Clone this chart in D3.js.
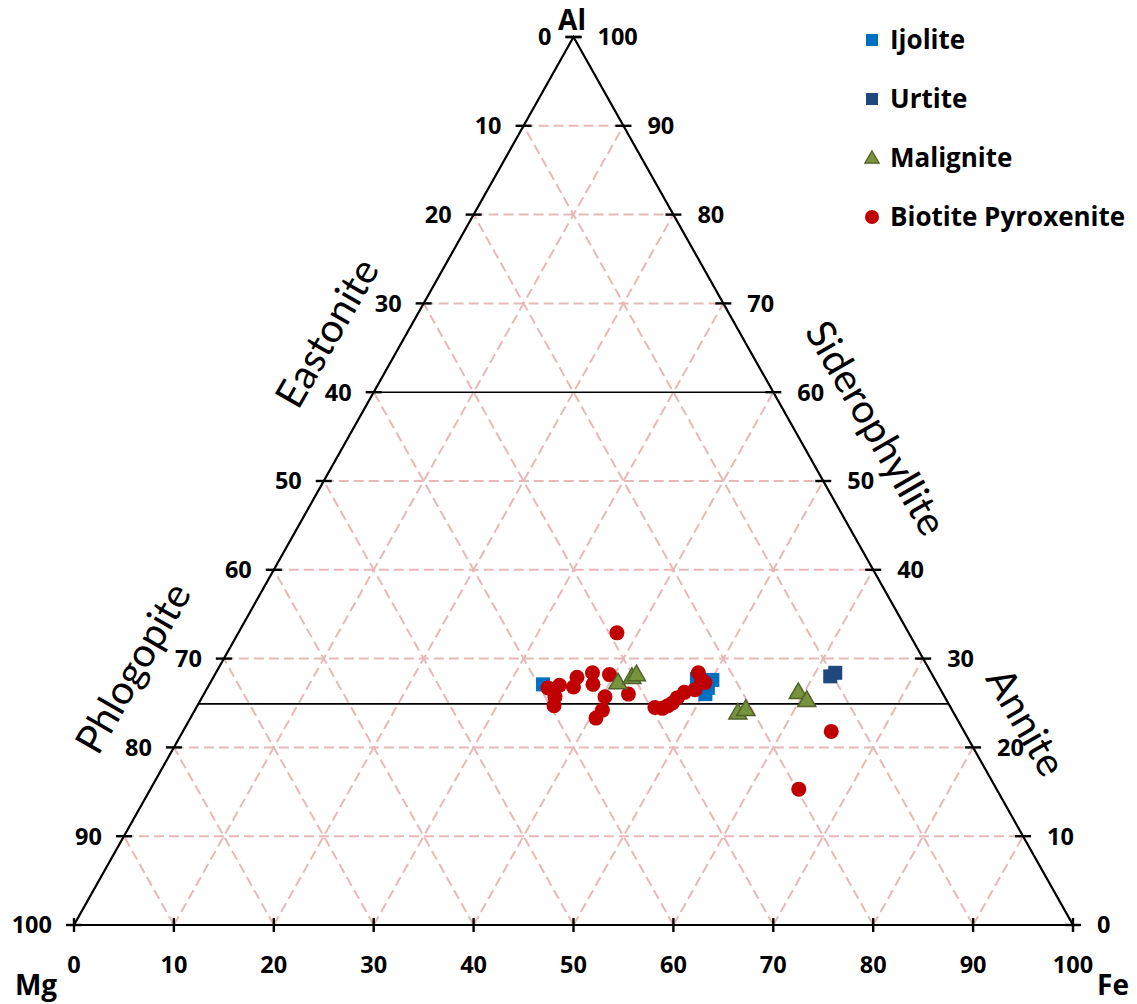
<!DOCTYPE html>
<html>
<head>
<meta charset="utf-8">
<script src="https://cdn.jsdelivr.net/npm/d3@7"></script>
<style>
  body { margin: 0; background: #fff; }
  text { font-family: "Open Sans", Lato, "Liberation Sans", sans-serif; }
  .field { font-family: Lato, "Open Sans", sans-serif; }
</style>
</head>
<body>
<svg id="chart" width="1137" height="1004"></svg>
<script>
// Ternary compositions, each point [Mg, Fe, Al] in percent
const ijolite = [
  [39.5, 33.4, 27.1], [23.8, 48.5, 27.7], [22.3, 50.1, 27.6],
  [23.2, 50.1, 26.7], [23.8, 50.2, 26.0]
];
const urtite = [
  [10.3, 61.7, 28.0], [9.6, 62.0, 28.4]
];
const malignite = [
  [31.9, 40.8, 27.3], [30.2, 41.9, 27.9], [29.6, 42.2, 28.2],
  [21.6, 54.5, 23.9], [20.6, 55.1, 24.3], [14.4, 59.4, 26.2],
  [14.0, 60.7, 25.3]
];
const biotitePyroxenite = [
  [29.2, 37.9, 32.9], [39.2, 34.1, 26.7], [37.9, 35.1, 27.0],
  [39.0, 35.3, 25.7], [39.6, 35.7, 24.7], [35.7, 36.4, 27.9],
  [36.6, 36.6, 26.8], [33.9, 37.7, 28.4], [34.5, 38.4, 27.1],
  [32.3, 39.5, 28.2], [34.0, 40.3, 25.7], [35.0, 40.8, 24.2],
  [36.1, 40.6, 23.3], [31.5, 42.5, 26.0], [29.6, 45.9, 24.5],
  [28.9, 46.7, 24.4], [28.2, 47.1, 24.7], [27.6, 47.4, 25.0],
  [26.8, 47.6, 25.6], [25.8, 48.0, 26.2], [24.6, 48.9, 26.5],
  [23.3, 48.3, 28.4], [23.4, 49.0, 27.6], [23.2, 49.5, 27.3],
  [13.3, 64.9, 21.8], [19.8, 64.9, 15.3]
];

const seriesNames = ["Ijolite", "Urtite", "Malignite", "Biotite Pyroxenite"];
const gridLevels = [10, 20, 30, 40, 50, 60, 70, 80, 90];
const tickLevels = [0, 10, 20, 30, 40, 50, 60, 70, 80, 90, 100];
const boundaryAl = [60, 24.9];        // solid field-boundary lines (Al %)
const vertexNames = ["Mg", "Fe", "Al"];
const fieldNames = ["Eastonite", "Phlogopite", "Siderophyllite", "Annite"];

const svg = d3.select("#chart");
const x = d3.scaleLinear().domain([0, 100]).range([74, 1073]);
const y = d3.scaleLinear().domain([0, 100]).range([925, 37]);

// ternary [Mg, Fe, Al] -> screen
const px = d => x(d[1] + d[2] / 2);
const py = d => y(d[2]);
const pt = d => [px(d), py(d)];

// grid: iso-Al (horizontal), iso-Fe and iso-Mg lines
const grid = svg.append("g")
  .attr("stroke", "#E6B9B8").attr("stroke-width", 2)
  .attr("stroke-dasharray", "10,5").attr("fill", "none");
gridLevels.forEach(k => {
  if (k !== 60) {
    grid.append("line")
      .attr("x1", px([100 - k, 0, k])).attr("y1", py([100 - k, 0, k]))
      .attr("x2", px([0, 100 - k, k])).attr("y2", py([0, 100 - k, k]));
  }
  grid.append("line")
    .attr("x1", px([100 - k, k, 0])).attr("y1", py([100 - k, k, 0]))
    .attr("x2", px([0, k, 100 - k])).attr("y2", py([0, k, 100 - k]));
  grid.append("line")
    .attr("x1", px([k, 100 - k, 0])).attr("y1", py([k, 100 - k, 0]))
    .attr("x2", px([k, 0, 100 - k])).attr("y2", py([k, 0, 100 - k]));
});

// solid boundaries between biotite end-member fields
svg.append("g").selectAll("line").data(boundaryAl).join("line")
  .attr("x1", a => px([100 - a, 0, a])).attr("y1", a => py([100 - a, 0, a]))
  .attr("x2", a => px([0, 100 - a, a])).attr("y2", a => py([0, 100 - a, a]))
  .attr("stroke", "#000").attr("stroke-width", 1.6);

// triangle outline
const corners = [[100, 0, 0], [0, 100, 0], [0, 0, 100]];
svg.append("path")
  .attr("d", d3.line()(corners.map(pt)) + "Z")
  .attr("fill", "none").attr("stroke", "#000").attr("stroke-width", 2.2)
  .attr("stroke-linejoin", "miter");

// axis ticks
const ticks = svg.append("g").attr("stroke", "#000").attr("stroke-width", 2.4);
tickLevels.forEach(a => {
  const L = [100 - a, 0, a], R = [0, 100 - a, a];
  ticks.append("line").attr("x1", px(L) - 8).attr("x2", px(L) + 8)
    .attr("y1", py(L)).attr("y2", py(L));
  ticks.append("line").attr("x1", px(R) - 8).attr("x2", px(R) + 8)
    .attr("y1", py(R)).attr("y2", py(R));
  ticks.append("line").attr("x1", x(a)).attr("x2", x(a))
    .attr("y1", y(0) - 7).attr("y2", y(0) + 7);
});

// tick labels
const lab = svg.append("g").attr("font-size", 23.5).attr("font-weight", "bold").attr("fill", "#000");
tickLevels.forEach(a => {
  const L = [100 - a, 0, a], R = [0, 100 - a, a];
  lab.append("text").attr("x", px(L) - 22).attr("y", py(L)).attr("dy", "0.36em")
    .attr("text-anchor", "end").text(100 - a);
  lab.append("text").attr("x", px(R) + 24).attr("y", py(R)).attr("dy", "0.36em")
    .attr("text-anchor", "start").text(a);
  lab.append("text").attr("x", x(a)).attr("y", 965).attr("dy", "0.36em")
    .attr("text-anchor", "middle").text(a);
});

// vertex names
const vtx = svg.append("g").attr("font-size", 28).attr("font-weight", "bold");
vtx.append("text").attr("x", 36).attr("y", 995).attr("text-anchor", "middle").text(vertexNames[0]);
vtx.append("text").attr("x", 1113).attr("y", 995).attr("text-anchor", "middle").text(vertexNames[1]);
vtx.append("text").attr("x", 572).attr("y", 30).attr("text-anchor", "middle").text(vertexNames[2]);

// end-member field names along the sides
const fieldPos = [[327, 333, -60], [133, 668, -60], [876, 428, 60], [1026, 722, 60]];
svg.append("g").attr("class", "field").attr("font-size", 40)
  .selectAll("text").data(fieldNames).join("text")
  .attr("class", "field")
  .attr("transform", (d, i) => `translate(${fieldPos[i][0]},${fieldPos[i][1]}) rotate(${fieldPos[i][2]})`)
  .attr("text-anchor", "middle").attr("dy", "0.35em").text(d => d);

// data markers
const sq = 14;
const drawSquares = (data, color) => svg.append("g").selectAll("rect").data(data).join("rect")
  .attr("x", d => px(d) - sq / 2).attr("y", d => py(d) - sq / 2)
  .attr("width", sq).attr("height", sq).attr("fill", color);
drawSquares(ijolite, "#0070C0");
drawSquares(urtite, "#1F497D");

svg.append("g").selectAll("circle").data(biotitePyroxenite).join("circle")
  .attr("cx", px).attr("cy", py).attr("r", 7.5).attr("fill", "#C00000");

const tri = d3.symbol().type(d3.symbolTriangle).size(140);
svg.append("g").selectAll("path").data(malignite).join("path")
  .attr("d", tri).attr("transform", d => `translate(${px(d)},${py(d) + 1})`)
  .attr("fill", "#77933C").attr("stroke", "#4F6228").attr("stroke-width", 1.5);

// legend
const legend = svg.append("g").attr("transform", "translate(872,0)");
const legY = [40, 99, 158, 217];
seriesNames.forEach((name, i) => {
  const g = legend.append("g").attr("transform", `translate(0,${legY[i]})`);
  if (i === 0 || i === 1) {
    g.append("rect").attr("x", -6).attr("y", -6).attr("width", 12).attr("height", 12)
      .attr("fill", i === 0 ? "#0070C0" : "#1F497D");
  } else if (i === 2) {
    g.append("path").attr("d", d3.symbol().type(d3.symbolTriangle).size(90)())
      .attr("transform", "translate(0,1)")
      .attr("fill", "#77933C").attr("stroke", "#4F6228").attr("stroke-width", 1.2);
  } else {
    g.append("circle").attr("r", 7).attr("fill", "#C00000");
  }
  g.append("text").attr("x", 18).attr("dy", "0.36em").attr("font-size", 26)
    .attr("font-weight", "bold").text(name);
});
</script>
</body>
</html>
